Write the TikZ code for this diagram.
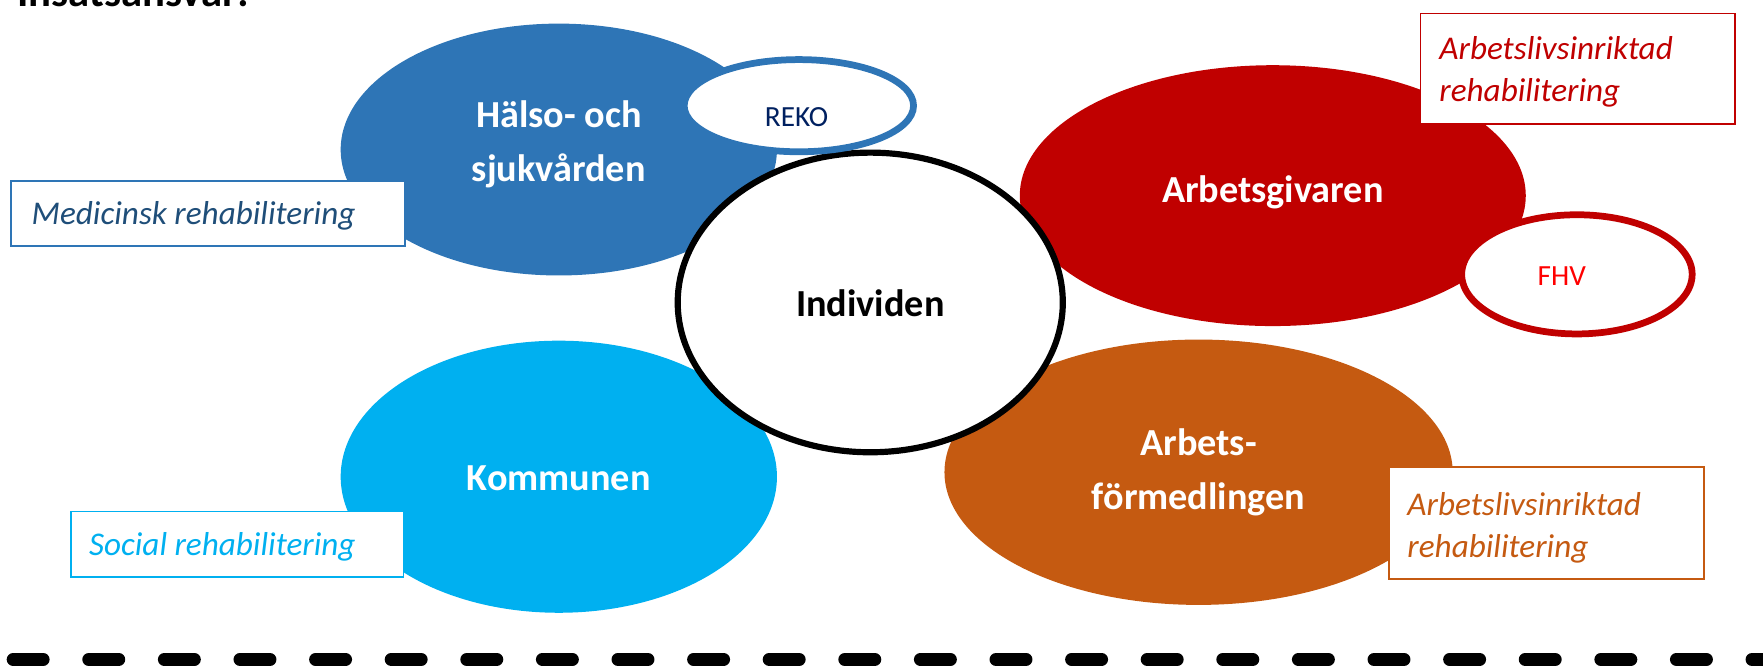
\documentclass[tikz,border=0pt]{standalone}
\usepackage{fontspec}
\setmainfont{Carlito}
\usetikzlibrary{shapes.geometric}
\definecolor{cBlue}{HTML}{2E75B6}
\definecolor{cDarkBlue}{HTML}{1F4E79}
\definecolor{cNavy}{HTML}{002060}
\definecolor{cRed}{HTML}{C00000}
\definecolor{cBright}{HTML}{FF0000}
\definecolor{cOrange}{HTML}{C55A11}
\definecolor{cLight}{HTML}{00B0F0}
\tikzset{
  blob/.style={ellipse, inner sep=0pt, draw=none},
  ring/.style={ellipse, inner sep=0pt, fill=white, line width=6pt},
  bigtxt/.style={text=white, font=\fontsize{34}{48}\selectfont\bfseries, align=center, inner sep=0pt},
  smalltxt/.style={font=\fontsize{26}{30}\selectfont, inner sep=0pt},
  labbox/.style={draw, fill=white, line width=1.5pt, inner sep=0pt},
  labtxt/.style={font=\fontsize{29.5}{37.5}\selectfont\itshape, anchor=base west, inner sep=0pt, align=left},
}
\begin{document}
\begin{tikzpicture}[x=1pt, y=-1pt]
\useasboundingbox (0,0) rectangle (1568,593.2);
% title (cut at top edge)
\node[font=\fontsize{38}{40}\selectfont\bfseries, anchor=base east, inner sep=0pt] (title) at (222,6) {Insatsansvar:};
% main ellipses
\node[blob, fill=cBlue, minimum width=388pt, minimum height=224pt] (hs) at (497,133) {};
\node[blob, fill=cLight, minimum width=388pt, minimum height=242pt] (ko) at (497,424) {};
\node[blob, fill=cRed, minimum width=450pt, minimum height=232pt] (ag) at (1132,174) {};
\node[blob, fill=cOrange, minimum width=452pt, minimum height=236pt] (af) at (1066,420) {};
% centre circle
\node[ellipse, inner sep=0pt, fill=white, draw=black, line width=5.5pt, minimum width=342.5pt, minimum height=266.5pt] (ind) at (774,269) {};
% small rings
\node[ring, draw=cBlue, minimum width=204pt, minimum height=82pt] (reko) at (710.5,94) {};
\node[ring, draw=cRed, minimum width=205pt, minimum height=106pt] (fhv) at (1402.5,244) {};
% texts in ellipses
\node[bigtxt] (hstxt) at (497,128) {Hälso- och\\sjukvården};
\node[bigtxt] (kotxt) at (497,425) {Kommunen};
\node[bigtxt] (agtxt) at (1132,171) {Arbetsgivaren};
\node[bigtxt] (aftxt) at (1066,420) {Arbets-\\förmedlingen};
\node[bigtxt, text=black] (indtxt) at (774,270) {Individen};
\node[smalltxt, text=cNavy] (rekotxt) at (708.5,104) {REKO};
\node[smalltxt, text=cBright] (fhvtxt) at (1389,246) {FHV};
% label boxes
\draw[labbox, draw=cBlue] (10,161) rectangle (360,219);
\node[labtxt, text=cDarkBlue] (med) at (28,200) {Medicinsk rehabilitering};
\draw[labbox, draw=cLight] (63,455) rectangle (359,513);
\node[labtxt, text=cLight] (soc) at (79,494) {Social rehabilitering};
\draw[labbox, draw=cRed] (1263.5,11.9) rectangle (1543,110.3);
\node[labtxt, text=cRed] (arb1) at (1280,90.4) {Arbetslivsinriktad\\rehabilitering};
\draw[labbox, draw=cOrange] (1235.3,415.6) rectangle (1515.5,515);
\node[labtxt, text=cOrange] (arb2) at (1251.6,495.7) {Arbetslivsinriktad\\rehabilitering};
% dashed separator
\coordinate (dl) at (11.7,586.5);
\coordinate (dr) at (1580,586.5);
\draw[line width=11.5pt, line cap=round, dash pattern=on 26.7pt off 40.54pt] (dl) -- (dr);
\end{tikzpicture}
\end{document}
